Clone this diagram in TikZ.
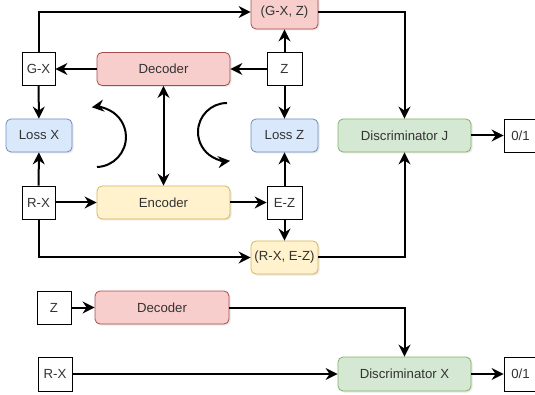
\documentclass[tikz,border=0pt]{standalone}
\usepackage{fontspec}
\setmainfont{Liberation Sans}
\usetikzlibrary{arrows.meta,shadows}

\begin{document}
\begin{tikzpicture}[x=1pt,y=-1pt,
    font=\fontsize{13.2}{16}\selectfont,
    box/.style={draw=black,thick,fill=white,minimum height=33pt,inner sep=1pt,text=black!80},
    blk/.style={draw,rounded corners=5pt,line width=0.8pt,minimum height=33pt,
        text=black!80,drop shadow={shadow xshift=1.5pt,shadow yshift=-1.5pt,opacity=.18}},
    red/.style={blk,draw=red!50!black!70,fill={rgb,255:red,248;green,206;blue,204}},
    yel/.style={blk,draw={rgb,255:red,214;green,182;blue,86},fill={rgb,255:red,255;green,242;blue,204}},
    blu/.style={blk,draw={rgb,255:red,108;green,142;blue,191},fill={rgb,255:red,218;green,232;blue,252}},
    grn/.style={blk,draw={rgb,255:red,130;green,179;blue,102},fill={rgb,255:red,213;green,232;blue,212}},
    tip/.tip={Stealth[length=12pt,width=12pt,inset=4pt]},
    wire/.style={line width=2pt,-tip},
    both/.style={line width=2pt,tip-tip}]
    \useasboundingbox (0,0) rectangle (535,395);

    % upper network
    \node[box,minimum width=33pt] (gx) at (38.5,69) {G-X};
    \node[red,minimum width=133pt] (dec) at (163.5,69) {Decoder};
    \node[box,minimum width=35pt] (z) at (284.5,69) {Z};
    \node[red,minimum width=67pt,minimum height=34pt] (gxz) at (284.5,12) {(G-X, Z)};
    \node[blu,minimum width=66pt] (lossx) at (39,135.5) {Loss X};
    \node[blu,minimum width=67pt] (lossz) at (284.5,135.5) {Loss Z};
    \node[grn,minimum width=133pt] (discj) at (404.5,135.5) {Discriminator J};
    \node[box,minimum width=33pt] (outj) at (520.5,135.5) {0/1};
    \node[box,minimum width=33pt] (rx) at (38.5,202.5) {R-X};
    \node[yel,minimum width=133pt] (enc) at (163.5,202.5) {Encoder};
    \node[box,minimum width=35pt] (ez) at (284.5,202.5) {E-Z};
    \node[yel,minimum width=67pt] (rxez) at (284.5,257.5) {(R-X, E-Z)};

    \draw[wire] (dec) -- (gx);
    \draw[wire] (z) -- (dec);
    \draw[wire] (z) -- (gxz);
    \draw[wire] (z) -- (lossz);
    \draw[wire] (gx) -- (lossx);
    \draw[wire] (gx.north) |- (gxz.west);
    \draw[wire] (gxz.east) -| (discj.north);
    \draw[wire] (rx) -- (lossx);
    \draw[wire] (rx) -- (enc);
    \draw[wire] (enc) -- (ez);
    \draw[wire] (ez) -- (lossz);
    \draw[wire] (ez) -- (rxez);
    \draw[wire] (rx.south) |- (rxez.west);
    \draw[wire] (rxez.east) -| (discj.south);
    \draw[wire] (discj) -- (outj);
    \draw[both] (dec) -- (enc);

    % training loop arrows (y axis points down, so angles run clockwise)
    \coordinate (loopl) at (97,167);
    \coordinate (loopr) at (227,103);
    \draw[wire] (loopl) arc[start angle=88,end angle=-98,radius=30];
    \draw[wire] (loopr) arc[start angle=-90,end angle=-276,radius=29];

    % lower network
    \node[box,minimum width=34pt] (z2) at (54,307.5) {Z};
    \node[red,minimum width=134pt] (dec2) at (162,307.5) {Decoder};
    \node[box,minimum width=34pt,minimum height=34pt] (rx2) at (55,374) {R-X};
    \node[grn,minimum width=133pt,minimum height=34pt] (discx) at (404.5,374) {Discriminator X};
    \node[box,minimum width=33pt,minimum height=34pt] (outx) at (520.5,374) {0/1};

    \draw[wire] (z2) -- (dec2);
    \draw[wire] (dec2.east) -| (discx.north);
    \draw[wire] (rx2) -- (discx);
    \draw[wire] (discx) -- (outx);
\end{tikzpicture}
\end{document}
